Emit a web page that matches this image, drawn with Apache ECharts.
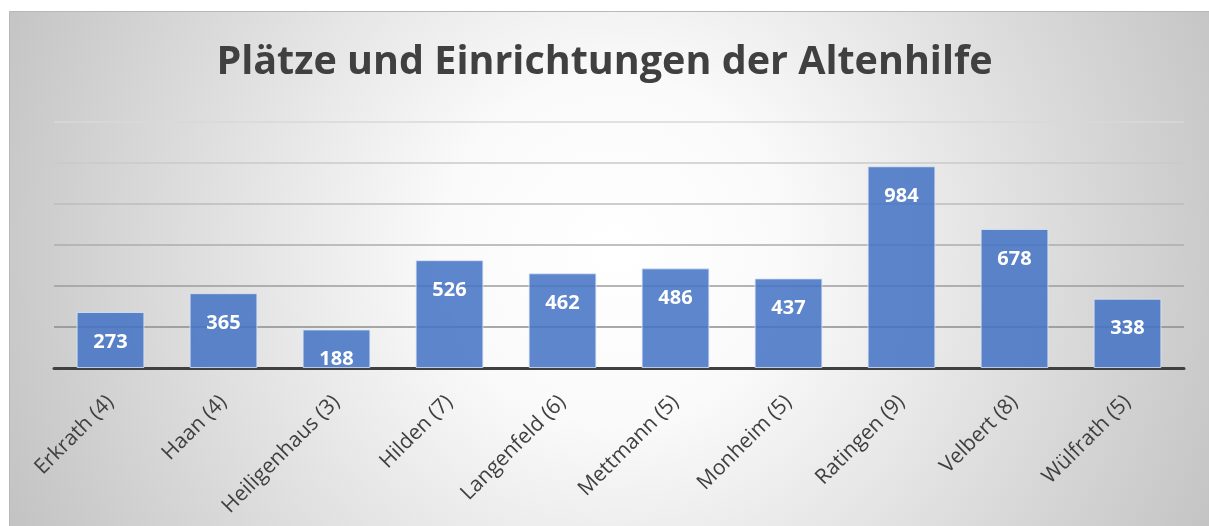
<!DOCTYPE html>
<html>
<head>
<meta charset="utf-8">
<script src="https://cdn.jsdelivr.net/npm/echarts@6/dist/echarts.min.js"></script>
<style>
  html, body { margin: 0; padding: 0; background: #fff; }
  #main { width: 1209px; height: 526px; }
</style>
</head>
<body>
<div id="main"></div>
<script>
var orte = ['Erkrath (4)', 'Haan (4)', 'Heiligenhaus (3)', 'Hilden (7)', 'Langenfeld (6)',
            'Mettmann (5)', 'Monheim (5)', 'Ratingen (9)', 'Velbert (8)', 'Wülfrath (5)'];
var plaetze = [273, 365, 188, 526, 462, 486, 437, 984, 678, 338];

var myChart = echarts.init(document.getElementById('main'));

var fontName = '"Open Sans", "Noto Sans", sans-serif';

option = {
    backgroundColor: '#fff',
    graphic: [{
        type: 'rect',
        z: -10,
        silent: true,
        shape: { x: 9.5, y: 11.5, width: 1210, height: 530 },
        style: {
            fill: new echarts.graphic.RadialGradient(0.5, 0.45, 1.3, [
                { offset: 0, color: '#ffffff' },
                { offset: 0.25, color: '#fafafa' },
                { offset: 1, color: '#c0c0c0' }
            ]),
            stroke: '#b8b8b8',
            lineWidth: 1
        }
    }],
    title: {
        text: 'Plätze und Einrichtungen der Altenhilfe',
        left: 'center',
        top: 38,
        textStyle: {
            color: '#404040',
            fontSize: 39.5,
            fontWeight: 'bold',
            fontFamily: fontName
        }
    },
    grid: { left: 54, right: 25, top: 122, bottom: 158 },
    xAxis: {
        type: 'category',
        data: orte,
        axisTick: { show: false },
        axisLine: { lineStyle: { color: '#404040', width: 3 } },
        axisLabel: {
            rotate: 45,
            interval: 0,
            margin: 31,
            color: '#404040',
            fontSize: 21,
            fontFamily: fontName
        }
    },
    yAxis: {
        type: 'value',
        min: 0,
        max: 1200,
        interval: 200,
        axisLabel: { show: false },
        axisLine: { show: false },
        axisTick: { show: false },
        splitLine: {
            lineStyle: {
                color: ['#888888', '#8c8c8c', '#9c9c9c', '#acacac', '#bcbcbc', '#cacaca', '#d8d8d8'],
                width: 1.5
            }
        }
    },
    series: [{
        name: 'Plätze',
        type: 'bar',
        data: plaetze,
        barCategoryGap: '40%',
        itemStyle: {
            color: 'rgba(68,114,196,0.86)',
            borderColor: 'rgba(220,230,248,0.8)',
            borderWidth: 1
        },
        label: {
            show: true,
            position: 'insideTop',
            distance: 20,
            color: '#ffffff',
            fontSize: 20,
            fontWeight: 'bold',
            fontFamily: fontName
        }
    }]
};
myChart.setOption(option);
</script>
</body>
</html>
